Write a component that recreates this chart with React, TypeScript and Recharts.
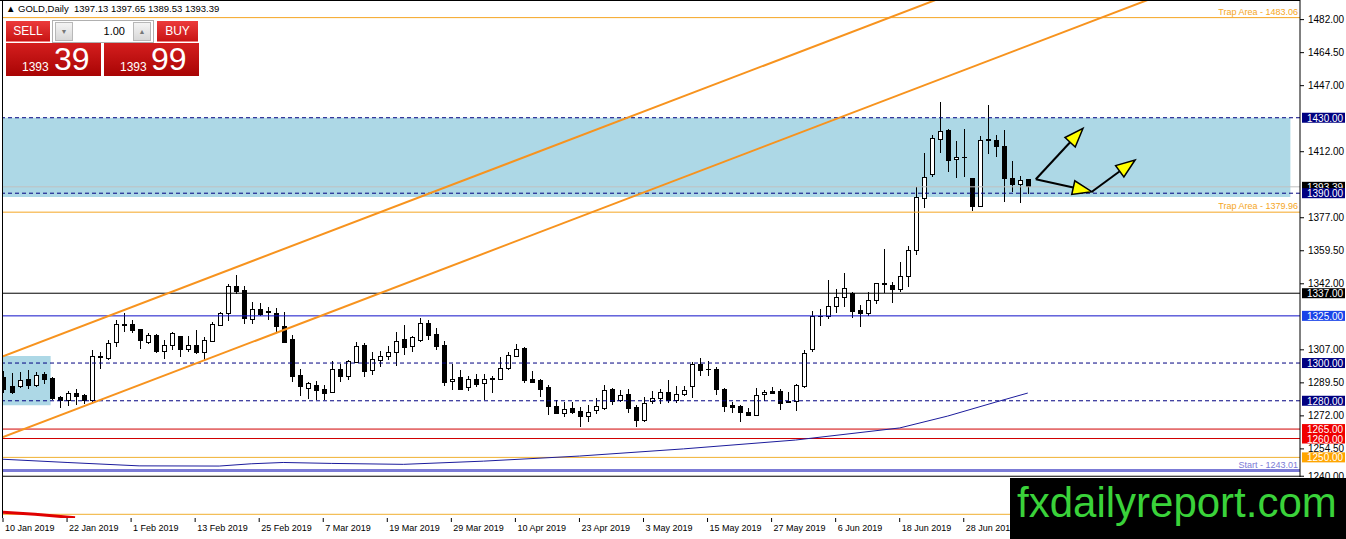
import React from "react";
import { ComposedChart, Bar, Line, XAxis, YAxis, ReferenceLine, ReferenceArea } from "recharts";

// daily OHLC, 10 Jan 2019 .. 10 Jul 2019
const opens = [
  1292.5, 1287.3, 1287.3, 1291.1, 1288.3, 1294.0, 1291.8, 1281.6, 1279.9, 1283.8,
  1282.7, 1280.0, 1303.0, 1302.4, 1310.8, 1320.1, 1320.3, 1317.6, 1311.0, 1314.4,
  1306.1, 1309.5, 1314.1, 1307.0, 1309.5, 1305.6, 1311.5, 1320.0, 1326.0, 1340.8,
  1338.3, 1323.3, 1328.6, 1326.8, 1326.2, 1319.4, 1312.4, 1293.3, 1286.5, 1288.0,
  1285.9, 1284.5, 1296.5, 1292.6, 1300.5, 1309.2, 1295.9, 1301.4, 1303.2, 1305.8,
  1312.3, 1308.5, 1312.0, 1321.2, 1315.3, 1309.2, 1290.0, 1292.1, 1286.9, 1291.5,
  1289.4, 1291.3, 1291.5, 1297.3, 1303.5, 1307.9, 1291.2, 1290.8, 1287.1, 1276.7,
  1273.3, 1275.7, 1274.4, 1271.9, 1274.6, 1276.0, 1285.9, 1279.9, 1283.2, 1276.6,
  1269.7, 1279.4, 1281.0, 1284.5, 1280.2, 1283.1, 1287.3, 1299.1, 1296.4, 1296.5,
  1286.2, 1277.4, 1277.0, 1274.0, 1272.4, 1283.2, 1284.8, 1284.8, 1279.7, 1279.4,
  1287.6, 1307.4, 1324.4, 1324.6, 1329.7, 1334.9, 1337.0, 1327.6, 1326.3, 1332.9,
  1341.6, 1341.3, 1339.1, 1346.1, 1359.5, 1387.3, 1400.0, 1418.6, 1423.1, 1407.7,
  1408.8, 1397.9, 1382.8, 1418.5, 1418.2, 1415.0, 1397.9, 1394.5, 1397.13,
];
const highs = [
  1296.0, 1294.7, 1295.2, 1296.5, 1295.0, 1295.0, 1292.5, 1282.7, 1285.2, 1286.4,
  1283.8, 1306.7, 1305.6, 1312.0, 1323.0, 1326.3, 1322.9, 1318.0, 1315.9, 1315.5,
  1312.0, 1316.3, 1314.5, 1314.5, 1317.6, 1313.8, 1322.0, 1327.0, 1341.7, 1346.5,
  1341.0, 1332.1, 1331.8, 1329.7, 1329.1, 1326.8, 1315.0, 1296.8, 1290.0, 1290.6,
  1288.5, 1300.9, 1299.6, 1301.7, 1310.9, 1310.6, 1305.8, 1306.5, 1308.8, 1316.4,
  1320.3, 1314.5, 1323.8, 1322.6, 1318.5, 1311.8, 1299.6, 1296.5, 1293.0, 1294.2,
  1294.3, 1292.9, 1303.2, 1306.1, 1310.2, 1308.5, 1295.6, 1291.5, 1288.5, 1280.2,
  1279.1, 1279.1, 1276.7, 1277.7, 1281.6, 1288.5, 1286.6, 1285.9, 1286.2, 1277.9,
  1282.0, 1285.2, 1286.0, 1291.2, 1288.0, 1288.0, 1300.7, 1302.6, 1300.9, 1298.0,
  1287.0, 1279.1, 1278.0, 1276.0, 1286.7, 1285.8, 1287.3, 1286.2, 1284.8, 1289.0,
  1306.7, 1327.7, 1328.6, 1344.0, 1339.1, 1347.5, 1337.5, 1330.6, 1337.9, 1342.6,
  1360.3, 1343.1, 1353.7, 1362.0, 1393.1, 1411.5, 1420.8, 1438.3, 1423.8, 1417.8,
  1423.9, 1398.3, 1420.3, 1436.7, 1420.8, 1423.5, 1407.2, 1399.1, 1397.65,
];
const lows = [
  1284.0, 1283.5, 1286.7, 1286.2, 1287.3, 1288.7, 1280.5, 1276.3, 1277.0, 1277.9,
  1278.3, 1279.5, 1297.1, 1301.7, 1308.3, 1316.6, 1315.9, 1307.7, 1310.2, 1305.3,
  1302.1, 1307.0, 1303.2, 1305.6, 1304.9, 1301.7, 1311.0, 1320.0, 1322.3, 1336.7,
  1320.5, 1320.8, 1324.7, 1322.6, 1315.9, 1310.9, 1289.7, 1282.3, 1280.9, 1280.5,
  1280.2, 1284.2, 1289.7, 1291.2, 1300.0, 1292.4, 1293.6, 1297.7, 1301.7, 1298.2,
  1304.4, 1306.1, 1311.1, 1312.0, 1307.0, 1288.0, 1285.9, 1286.0, 1285.0, 1287.3,
  1280.2, 1284.1, 1290.8, 1296.1, 1303.0, 1289.4, 1289.4, 1281.8, 1272.4, 1272.8,
  1271.2, 1273.0, 1266.0, 1268.8, 1273.1, 1275.2, 1277.7, 1279.2, 1273.5, 1266.1,
  1268.5, 1278.3, 1278.3, 1279.0, 1279.0, 1282.5, 1281.4, 1292.9, 1292.9, 1283.3,
  1273.8, 1273.5, 1268.8, 1271.8, 1271.8, 1279.7, 1283.8, 1275.2, 1278.8, 1274.4,
  1287.0, 1305.6, 1319.7, 1323.2, 1326.3, 1329.7, 1324.0, 1319.3, 1324.7, 1331.5,
  1337.3, 1332.0, 1337.8, 1340.4, 1357.2, 1382.0, 1398.7, 1411.1, 1401.4, 1397.9,
  1398.4, 1380.7, 1382.5, 1410.8, 1409.3, 1385.5, 1390.8, 1385.0, 1389.53,
];
const closes = [
  1286.0, 1284.2, 1290.6, 1288.3, 1293.6, 1291.5, 1281.2, 1279.9, 1283.6, 1282.3,
  1280.2, 1303.7, 1303.3, 1310.2, 1320.5, 1320.4, 1317.3, 1311.8, 1314.4, 1306.1,
  1309.2, 1315.9, 1307.4, 1309.5, 1305.6, 1311.8, 1320.3, 1326.0, 1340.5, 1338.0,
  1323.6, 1328.2, 1325.6, 1327.1, 1319.4, 1311.0, 1292.6, 1287.6, 1288.9, 1285.5,
  1283.6, 1296.5, 1292.9, 1300.7, 1308.5, 1295.6, 1302.1, 1303.2, 1305.8, 1311.6,
  1308.3, 1313.6, 1320.8, 1314.8, 1308.8, 1289.7, 1291.5, 1286.2, 1291.5, 1288.7,
  1291.5, 1291.6, 1297.3, 1303.9, 1307.4, 1290.8, 1289.7, 1286.2, 1276.7, 1273.5,
  1275.2, 1273.7, 1271.6, 1274.0, 1276.7, 1285.2, 1279.5, 1283.0, 1276.0, 1269.7,
  1278.5, 1281.1, 1284.5, 1280.1, 1283.1, 1285.2, 1299.1, 1296.1, 1296.6, 1285.9,
  1277.0, 1276.4, 1273.8, 1272.4, 1283.0, 1284.5, 1284.1, 1278.5, 1279.0, 1288.0,
  1304.9, 1324.6, 1324.8, 1329.7, 1334.9, 1339.6, 1327.2, 1326.1, 1332.9, 1342.1,
  1342.1, 1339.1, 1346.1, 1359.7, 1387.8, 1398.4, 1419.1, 1422.6, 1407.6, 1409.0,
  1409.1, 1382.8, 1417.8, 1417.9, 1414.6, 1397.9, 1394.5, 1397.0, 1393.39,
];

// moving average read at a few bars
const maIdx = [0, 8, 17, 27, 31, 35, 41, 50, 60, 72, 85, 99, 112, 118, 124, 128];
const maVals = [1249.0, 1247.3, 1245.5, 1245.4, 1246.6, 1247.3, 1246.8, 1246.3, 1248.0, 1250.7, 1254.5, 1259.2, 1265.6, 1271.9, 1279.3, 1284.1];

// lower indicator pane
const indIdx = [0, 4, 9];
const indVals = [5.7, 3.7, 0.3];

const dateTicks = [0, 8, 16, 24, 32, 40, 48, 56, 64, 72, 80, 88, 96, 104, 112, 120];
const dateLabels = [
  "10 Jan 2019", "22 Jan 2019", "1 Feb 2019", "13 Feb 2019", "25 Feb 2019", "7 Mar 2019",
  "19 Mar 2019", "29 Mar 2019", "10 Apr 2019", "23 Apr 2019", "3 May 2019", "15 May 2019",
  "27 May 2019", "6 Jun 2019", "18 Jun 2019", "28 Jun 2019",
];
const priceTicks = [1482, 1464.5, 1447, 1412, 1377, 1359.5, 1342, 1307, 1289.5, 1272, 1254.5, 1240];

const candles = opens.map((o, i) => {
  const m = maIdx.indexOf(i);
  return { i, o, h: highs[i], l: lows[i], c: closes[i], range: [lows[i], highs[i]], ma: m >= 0 ? maVals[m] : null };
});
const indRows = indIdx.map((i, k) => ({ i, v: indVals[k] }));

const Candle = (props: any) => {
  const { x, y, width, height, payload } = props;
  const { o, h, l, c } = payload;
  const k = height / (h - l || 1);
  const cx = Math.round(x + width / 2) + 0.5;
  const top = y + (h - Math.max(o, c)) * k;
  const bot = y + (h - Math.min(o, c)) * k;
  return (
    <g shapeRendering="crispEdges">
      <line x1={cx} x2={cx} y1={y} y2={y + height} stroke="#000" />
      <rect x={cx - 2} y={top} width={4} height={Math.max(bot - top, 0.5)} fill={c >= o ? "#fff" : "#000"} stroke="#000" />
    </g>
  );
};

const tag = (text: string, bg: string) => (p: any) => {
  const vb = p.viewBox;
  const right = vb.x + vb.width;
  return (
    <g>
      <rect x={right + 2} y={vb.y - 5} width={43} height={10} fill={bg} />
      <text x={right + 7} y={vb.y + 4} fill="#fff" fontSize={10}>{text}</text>
    </g>
  );
};

const note = (text: string, color: string) => (p: any) => {
  const vb = p.viewBox;
  return (
    <text x={vb.x + vb.width - 2} y={vb.y - 3} fill={color} fontSize={9} textAnchor="end">{text}</text>
  );
};

const Arrow = (p: any) => {
  const { x1, y1, x2, y2 } = p;
  const a = Math.atan2(y2 - y1, x2 - x1);
  const bx = x2 - 19 * Math.cos(a);
  const by = y2 - 19 * Math.sin(a);
  const nx = -Math.sin(a) * 7;
  const ny = Math.cos(a) * 7;
  return (
    <g>
      <line x1={x1} y1={y1} x2={bx} y2={by} stroke="#000" strokeWidth={2} />
      <polygon points={`${x2},${y2} ${bx + nx},${by + ny} ${bx - nx},${by - ny}`} fill="#ffff00" stroke="#000" strokeWidth={1.5} />
    </g>
  );
};

const DateTick = (p: any) => {
  const { x, y, payload } = p;
  const label = dateLabels[dateTicks.indexOf(payload.value)];
  return (
    <g>
      <line x1={x} x2={x} y1={y} y2={y + 4} stroke="#000" />
      <text x={x + 2} y={y + 13} fontSize={9} fill="#000">{label}</text>
    </g>
  );
};

const navy = "#000080";
const orange = "#f5a623";
const trend = "#f7931e";

export default function App() {
  return (
    <div style={{ position: "relative", width: 1346, height: 539, background: "#fff", overflow: "hidden", fontFamily: "'Liberation Sans', Arial, sans-serif" }}>
      <style>{"body{margin:0} .recharts-surface{overflow:visible}"}</style>

      <div style={{ position: "absolute", left: 0, top: 0 }}>
        <ComposedChart width={1346} height={477} data={candles} margin={{ top: 0, right: 0, bottom: 0, left: 3 }}>
          <XAxis type="number" dataKey="i" domain={[0, 162]} allowDataOverflow hide />
          <YAxis
            orientation="right"
            type="number"
            domain={[1239.6, 1492.4]}
            allowDataOverflow
            ticks={priceTicks}
            interval={0}
            width={46}
            tickSize={4}
            tickMargin={4}
            stroke="#000"
            tick={{ fontSize: 10, fill: "#000" }}
            tickFormatter={(v: number) => v.toFixed(2)}
          />
          <ReferenceArea x1={0} x2={160.8} y1={1388} y2={1430} fill="#add8e6" fillOpacity={1} stroke="none" />
          <ReferenceArea x1={0} x2={5.95} y1={1277.6} y2={1303.7} fill="#add8e6" fillOpacity={1} stroke="none" />

          <ReferenceLine y={1483.06} stroke={orange} label={note("Trap Area - 1483.06", orange)} />
          <ReferenceLine y={1393.39} stroke="#c0c0c0" label={tag("1393.39", "#000")} />
          <ReferenceLine y={1430} stroke={navy} strokeDasharray="4 3" label={tag("1430.00", navy)} />
          <ReferenceLine y={1390} stroke={navy} strokeDasharray="4 3" label={tag("1390.00", navy)} />
          <ReferenceLine y={1379.96} stroke={orange} label={note("Trap Area - 1379.96", orange)} />
          <ReferenceLine y={1337} stroke="#000" label={tag("1337.00", "#000")} />
          <ReferenceLine y={1325} stroke="#1010c8" label={tag("1325.00", "#1a44e8")} />
          <ReferenceLine y={1300} stroke={navy} strokeDasharray="4 3" label={tag("1300.00", navy)} />
          <ReferenceLine y={1280} stroke={navy} strokeDasharray="4 3" label={tag("1280.00", navy)} />
          <ReferenceLine y={1265} stroke="#d00000" label={tag("1265.00", "#f00000")} />
          <ReferenceLine y={1260} stroke="#d00000" label={tag("1260.00", "#f00000")} />
          <ReferenceLine y={1250} stroke="#f0b030" label={tag("1250.00", "#ffa500")} />
          <ReferenceLine y={1243.01} stroke="#7b7bd6" strokeWidth={3} label={note("Start - 1243.01", "#7b7bd6")} />
          <ReferenceLine y={1240} stroke="#000" />

          <Bar dataKey="range" barSize={5} shape={Candle} isAnimationActive={false} />
          <Line dataKey="ma" stroke="#1c1c9c" strokeWidth={1} dot={false} connectNulls isAnimationActive={false} />

          <ReferenceLine segment={[{ x: 0, y: 1303.6 }, { x: 120, y: 1498.1 }]} stroke={trend} strokeWidth={2} ifOverflow="hidden" />
          <ReferenceLine segment={[{ x: 0, y: 1260.7 }, { x: 150, y: 1503.8 }]} stroke={trend} strokeWidth={2} ifOverflow="hidden" />

          <ReferenceLine segment={[{ x: 129, y: 1397.4 }, { x: 134.9, y: 1424.4 }]} shape={Arrow} />
          <ReferenceLine segment={[{ x: 129, y: 1397.4 }, { x: 136, y: 1390.8 }]} shape={Arrow} />
          <ReferenceLine segment={[{ x: 136, y: 1390.8 }, { x: 141.4, y: 1407.6 }]} shape={Arrow} />
        </ComposedChart>
      </div>

      <div style={{ position: "absolute", left: 0, top: 477 }}>
        <ComposedChart width={1346} height={62} data={indRows} margin={{ top: 0, right: 46, bottom: 0, left: 3 }}>
          <XAxis
            type="number"
            dataKey="i"
            domain={[0, 162]}
            allowDataOverflow
            ticks={dateTicks}
            interval={0}
            height={21}
            axisLine={false}
            tickLine={false}
            tickSize={0}
            tickMargin={0}
            tick={DateTick}
          />
          <YAxis hide type="number" domain={[0, 41]} allowDataOverflow />
          <ReferenceLine y={3.7} stroke="#f0b030" />
          <Line dataKey="v" stroke="#e00000" strokeWidth={3} dot={false} isAnimationActive={false} />
        </ComposedChart>
      </div>

      {/* window frame */}
      <div style={{ position: "absolute", left: 0, top: 0, width: 1300, height: 1, background: "#000" }} />
      <div style={{ position: "absolute", left: 2, top: 0, width: 1, height: 518, background: "#000" }} />

      {/* header */}
      <div style={{ position: "absolute", left: 6, top: 3, fontSize: 9.5, color: "#000", whiteSpace: "pre" }}>
        {"▲ GOLD,Daily  1397.13 1397.65 1389.53 1393.39"}
      </div>

      {/* one click trading panel */}
      <div style={{ position: "absolute", left: 6, top: 21, width: 44, height: 20, background: "linear-gradient(#ec3b3b,#c81414)", borderBottom: "1px solid #f08080", color: "#fff", fontSize: 12, lineHeight: "20px", textAlign: "center" }}>SELL</div>
      <div style={{ position: "absolute", left: 52, top: 20, width: 100, height: 21, background: "#fff", border: "1px solid #b0b0b0" }}>
        <div style={{ position: "absolute", left: 2, top: 1, width: 16, height: 17, background: "linear-gradient(#f4f4f4,#d8d8d8)", border: "1px solid #b8b8b8", color: "#777", fontSize: 7, lineHeight: "17px", textAlign: "center" }}>▼</div>
        <div style={{ position: "absolute", right: 28, top: 0, fontSize: 11, lineHeight: "21px", color: "#000" }}>1.00</div>
        <div style={{ position: "absolute", right: 2, top: 1, width: 16, height: 17, background: "linear-gradient(#f4f4f4,#d8d8d8)", border: "1px solid #b8b8b8", color: "#777", fontSize: 7, lineHeight: "17px", textAlign: "center" }}>▲</div>
      </div>
      <div style={{ position: "absolute", left: 157, top: 21, width: 41, height: 20, background: "linear-gradient(#ec3b3b,#c81414)", borderBottom: "1px solid #f08080", color: "#fff", fontSize: 12, lineHeight: "20px", textAlign: "center" }}>BUY</div>
      <div style={{ position: "absolute", left: 6, top: 43, width: 95, height: 33, background: "linear-gradient(#d41e1e,#a80404)", color: "#fff" }}>
        <span style={{ position: "absolute", left: 16, top: 17, fontSize: 12 }}>1393</span>
        <span style={{ position: "absolute", left: 48, top: -2, fontSize: 32 }}>39</span>
      </div>
      <div style={{ position: "absolute", left: 104, top: 43, width: 95, height: 33, background: "linear-gradient(#d41e1e,#a80404)", color: "#fff" }}>
        <span style={{ position: "absolute", left: 16, top: 17, fontSize: 12 }}>1393</span>
        <span style={{ position: "absolute", left: 47, top: -2, fontSize: 32 }}>99</span>
      </div>

      {/* watermark */}
      <div style={{ position: "absolute", left: 1010, top: 478, width: 336, height: 61, background: "#000" }}>
        <div style={{ position: "absolute", left: 7, top: 4, fontSize: 42, lineHeight: "42px", color: "#3ad23a", whiteSpace: "nowrap" }}>fxdailyreport.com</div>
      </div>
    </div>
  );
}
